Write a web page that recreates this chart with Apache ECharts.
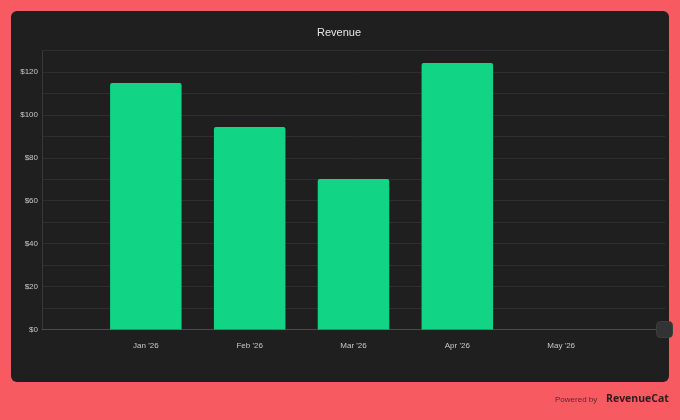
<!DOCTYPE html>
<html><head><meta charset="utf-8">
<style>html,body{margin:0;padding:0;background:#f95b63}#c{width:680px;height:420px}</style>
<script src="https://cdn.jsdelivr.net/npm/echarts@6/dist/echarts.min.js"></script>
</head><body><div id="c"></div>
<script>
const categories = ['', "Jan '26", "Feb '26", "Mar '26", "Apr '26", "May '26", ''];
const revenue = [null, 114.8, 94.3, 70.1, 124.2, null, null];
const font = 'Helvetica, "Liberation Sans", Arial, sans-serif';
const chart = echarts.init(document.getElementById('c'), null, {renderer:'canvas'});
chart.setOption({
  animation:false,
  backgroundColor:'#f85a62',
  title:{text:'Revenue',left:317,top:26,padding:0,itemGap:0,
    textStyle:{color:'#e6e6e6',fontSize:11,fontWeight:'normal',fontFamily:font,lineHeight:14}},
  grid:{left:42,right:15,top:50.5,bottom:90.5,containLabel:false},
  xAxis:{type:'category',data:categories,boundaryGap:false,
    axisLine:{lineStyle:{color:'#4a4a4a',width:1}},axisTick:{show:false},splitLine:{show:false},
    axisLabel:{color:'#c8c8c8',fontSize:8,fontFamily:font,margin:12,interval:0}},
  yAxis:{type:'value',min:0,max:130,interval:10,
    axisLine:{show:true,lineStyle:{color:'#383838',width:1}},axisTick:{show:false},
    splitLine:{lineStyle:{color:'#2e2e2e',width:1}},
    axisLabel:{color:'#c8c8c8',fontSize:8,fontFamily:font,margin:4,padding:[2,0,0,0],
      formatter:v=>v%20===0?'$'+v:''}},
  series:[{type:'bar',data:revenue,barWidth:71.5,
    itemStyle:{color:'#11d585',borderRadius:[2,2,0,0]}}],
  graphic:[
    {type:'rect',z:-10,shape:{x:11,y:11,width:658,height:371,r:6},style:{fill:'#1f1f1f'}},
    {type:'rect',z:100,shape:{x:656.5,y:321.5,width:16,height:16,r:4},style:{fill:'#333333',stroke:'#3d3d3d',lineWidth:1}},
    {type:'text',z:100,x:555,y:396,style:{text:'Powered by',fill:'#5a2a2e',fontSize:8,fontFamily:font}},
    {type:'text',z:100,x:606,y:394,style:{text:'RevenueCat',fill:'#35191c',fontSize:10.5,fontWeight:'bold',fontFamily:'"Open Sans",sans-serif'}}
  ]
});
</script></body></html>
